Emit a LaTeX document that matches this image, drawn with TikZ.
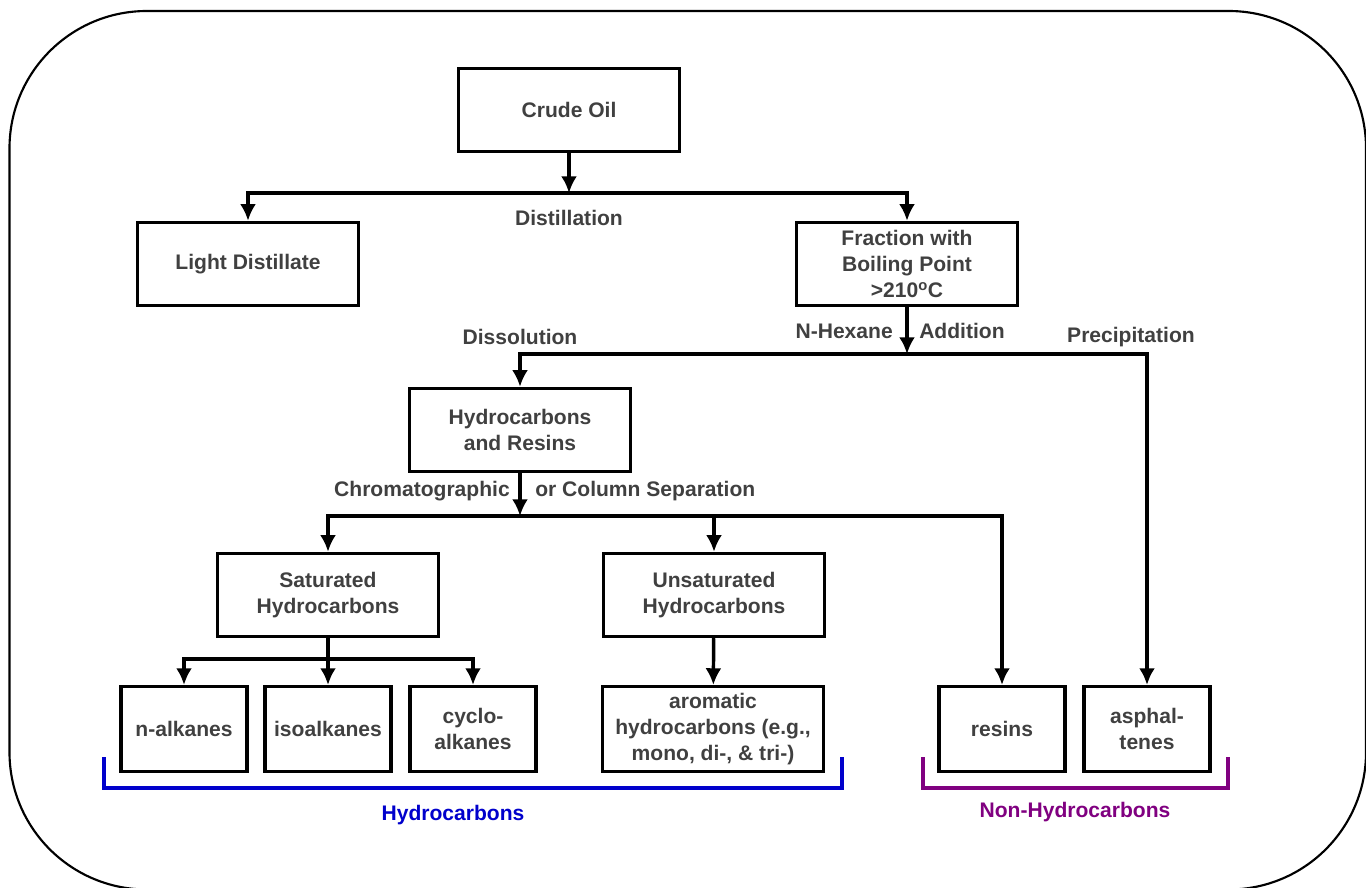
\documentclass[tikz,border=0pt]{standalone}
\usepackage{fontspec}
\setmainfont{Liberation Sans}
\usetikzlibrary{arrows.meta}
\definecolor{ink}{RGB}{64,64,64}
\definecolor{hcblue}{RGB}{0,0,204}
\definecolor{nhpurple}{RGB}{128,0,128}

\begin{document}
\begin{tikzpicture}[x=0.75pt,y=-0.75pt,>={Latex[length=12.5pt,width=12pt]},
  txt/.style={text=ink,font=\bfseries\fontsize{15.8}{19.5}\selectfont,align=center,inner sep=0pt},
  box/.style={txt,draw,line width=2.6pt,minimum width=165.75pt,minimum height=62.25pt},
  sbox/.style={txt,draw,line width=2.6pt,minimum width=94.5pt,minimum height=63.5pt},
  arr/.style={->,line width=2.6pt},
  brace/.style={line width=3pt}]
  \useasboundingbox (0,0) rectangle (1366,888);
  \draw[line width=1.6pt,rounded corners=103pt] (9.5,11) rectangle (1366,889.5);

  % boxes
  \node[box] (crude) at (569,110) {Crude Oil};
  \node[box] (light) at (248,264) {Light Distillate};
  \node[box] (frac) at (907,264) {Fraction with\\Boiling Point\\>210\textsuperscript{o}C};
  \node[box] (hr) at (520,430) {Hydrocarbons\\and Resins};
  \node[box] (sat) at (328,595) {Saturated\\Hydrocarbons};
  \node[box] (unsat) at (714,595) {Unsaturated\\Hydrocarbons};
  \node[sbox] (nalk) at (184,729) {n-alkanes};
  \node[sbox] (isoalk) at (328,729) {isoalkanes};
  \node[sbox] (cyclo) at (473,729) {cyclo-\\alkanes};
  \node[box,minimum height=63.5pt] (arom) at (713,729) {aromatic\\hydrocarbons (e.g.,\\mono, di-, \& tri-)};
  \node[sbox] (resins) at (1002,729) {resins};
  \node[sbox] (asph) at (1147,729) {asphal-\\tenes};

  % junctions
  \coordinate (j1) at (569,193);
  \coordinate (j2) at (907,354);
  \coordinate (j3) at (520,516);
  \coordinate (j4) at (328,659);

  \draw[arr] (crude) -- (j1);
  \draw[arr] (j1) -| (light);
  \draw[arr] (j1) -| (frac);
  \draw[arr] (frac) -- (j2);
  \draw[arr] (j2) -| (hr);
  \draw[arr] (j2) -| (asph);
  \draw[arr] (hr) -- (j3);
  \draw[arr] (j3) -| (sat);
  \draw[arr] (j3) -| (unsat);
  \draw[arr] (j3) -| (resins);
  \draw[arr] (sat) -- (isoalk);
  \draw[arr] (j4) -| (nalk);
  \draw[arr] (j4) -| (cyclo);
  \draw[arr] (unsat) -- (arom);

  % process labels
  \node[txt] (dist) at (569,218) {Distillation};
  \node[txt,anchor=east] (hex) at (893,331) {N-Hexane};
  \node[txt,anchor=west] (add) at (919,331) {Addition};
  \node[txt] (diss) at (520,337) {Dissolution};
  \node[txt] (prec) at (1131,337) {Precipitation};
  \node[txt,anchor=east] (chrom) at (510,491) {Chromatographic};
  \node[txt,anchor=west] (col) at (535,491) {or Column Separation};

  % groups
  \draw[brace,hcblue] (104,757) |- (842,788) -- (842,757);
  \node[txt,text=hcblue] (hc) at (453,815) {Hydrocarbons};
  \draw[brace,nhpurple] (923,757) |- (1228,788) -- (1228,757);
  \node[txt,text=nhpurple] (nhc) at (1075,812) {Non-Hydrocarbons};
\end{tikzpicture}
\end{document}
